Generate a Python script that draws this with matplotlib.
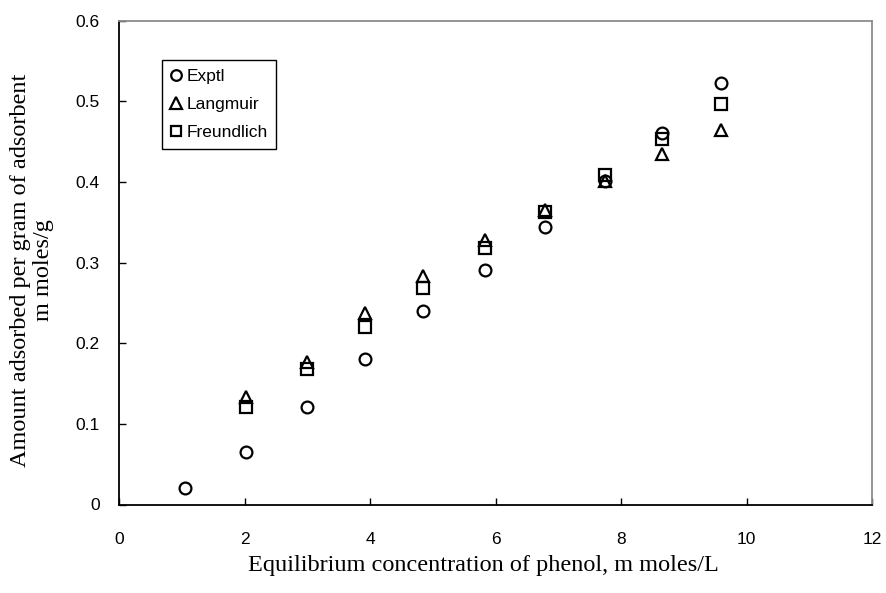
import numpy as np
import matplotlib.pyplot as plt

# Equilibrium concentration of phenol (m moles/L)
conc_exptl = [1.05, 2.02, 2.99, 3.92, 4.85, 5.83, 6.79, 7.74, 8.66, 9.59]
conc_model = [2.02, 2.99, 3.92, 4.85, 5.83, 6.79, 7.74, 8.66, 9.59]

# Amount adsorbed per gram of adsorbent (m moles/g)
q_exptl = [0.021, 0.0655, 0.1206, 0.180, 0.240, 0.291, 0.344, 0.401, 0.461, 0.523]
q_langmuir = [0.133, 0.177, 0.237, 0.283, 0.3275, 0.365, 0.401, 0.4345, 0.4646]
q_freundlich = [0.121, 0.168, 0.2206, 0.269, 0.318, 0.363, 0.4085, 0.4535, 0.4965]

x_ticks = [0, 2, 4, 6, 8, 10, 12]
y_ticks = [0, 0.1, 0.2, 0.3, 0.4, 0.5, 0.6]
y_tick_labels = ["0", "0.1", "0.2", "0.3", "0.4", "0.5", "0.6"]

sans = "Liberation Sans"
serif = "Liberation Serif"

fig = plt.figure(figsize=(8.86, 5.93), dpi=100)
ax = fig.add_axes([119 / 886, 88.5 / 593, 753 / 886, 483.8 / 593])

mk = dict(linestyle="none", markerfacecolor="none", markeredgecolor="black",
          markeredgewidth=1.6, clip_on=False)
ax.plot(conc_exptl, q_exptl, marker="o", markersize=8.5, label="Exptl", **mk)
ax.plot(conc_model, q_langmuir, marker="^", markersize=9, label="Langmuir", **mk)
ax.plot(conc_model, q_freundlich, marker="s", markersize=8.5, label="Freundlich", **mk)

ax.set_xlim(0, 12)
ax.set_ylim(0, 0.6)
ax.set_xticks(x_ticks)
ax.set_yticks(y_ticks)
ax.set_yticklabels(y_tick_labels)

for side in ["left", "bottom"]:
    ax.spines[side].set_color("black")
    ax.spines[side].set_linewidth(1.3)
for side in ["top", "right"]:
    ax.spines[side].set_color("#8c8c8c")
    ax.spines[side].set_linewidth(1.3)

ax.tick_params(axis="both", direction="in", length=5, width=1, color="black",
               top=False, right=False, labelsize=12.5)
ax.tick_params(axis="x", pad=20)
ax.tick_params(axis="y", pad=14)
for lbl in ax.get_xticklabels() + ax.get_yticklabels():
    lbl.set_fontfamily(sans)

fig.text(483 / 886, 1 - 566 / 593, "Equilibrium concentration of phenol, m moles/L",
         ha="center", va="center", fontsize=17.5, family=serif)
fig.text(32 / 886, 1 - 270 / 593, "Amount adsorbed per gram of adsorbent\nm moles/g",
         ha="center", va="center", rotation=90, multialignment="center",
         fontsize=17.5, family=serif, linespacing=1.15)

leg = ax.legend(loc="upper left", bbox_to_anchor=(162 / 886, 1 - 60 / 593),
                bbox_transform=fig.transFigure, frameon=True, fancybox=False,
                edgecolor="black", framealpha=1, prop={"family": sans, "size": 12.5},
                markerscale=0.9, handlelength=0.6, handletextpad=0.3,
                labelspacing=0.75, borderpad=0.5, borderaxespad=0)
leg.get_frame().set_linewidth(1.0)

fig.savefig("out.png", dpi=100)
